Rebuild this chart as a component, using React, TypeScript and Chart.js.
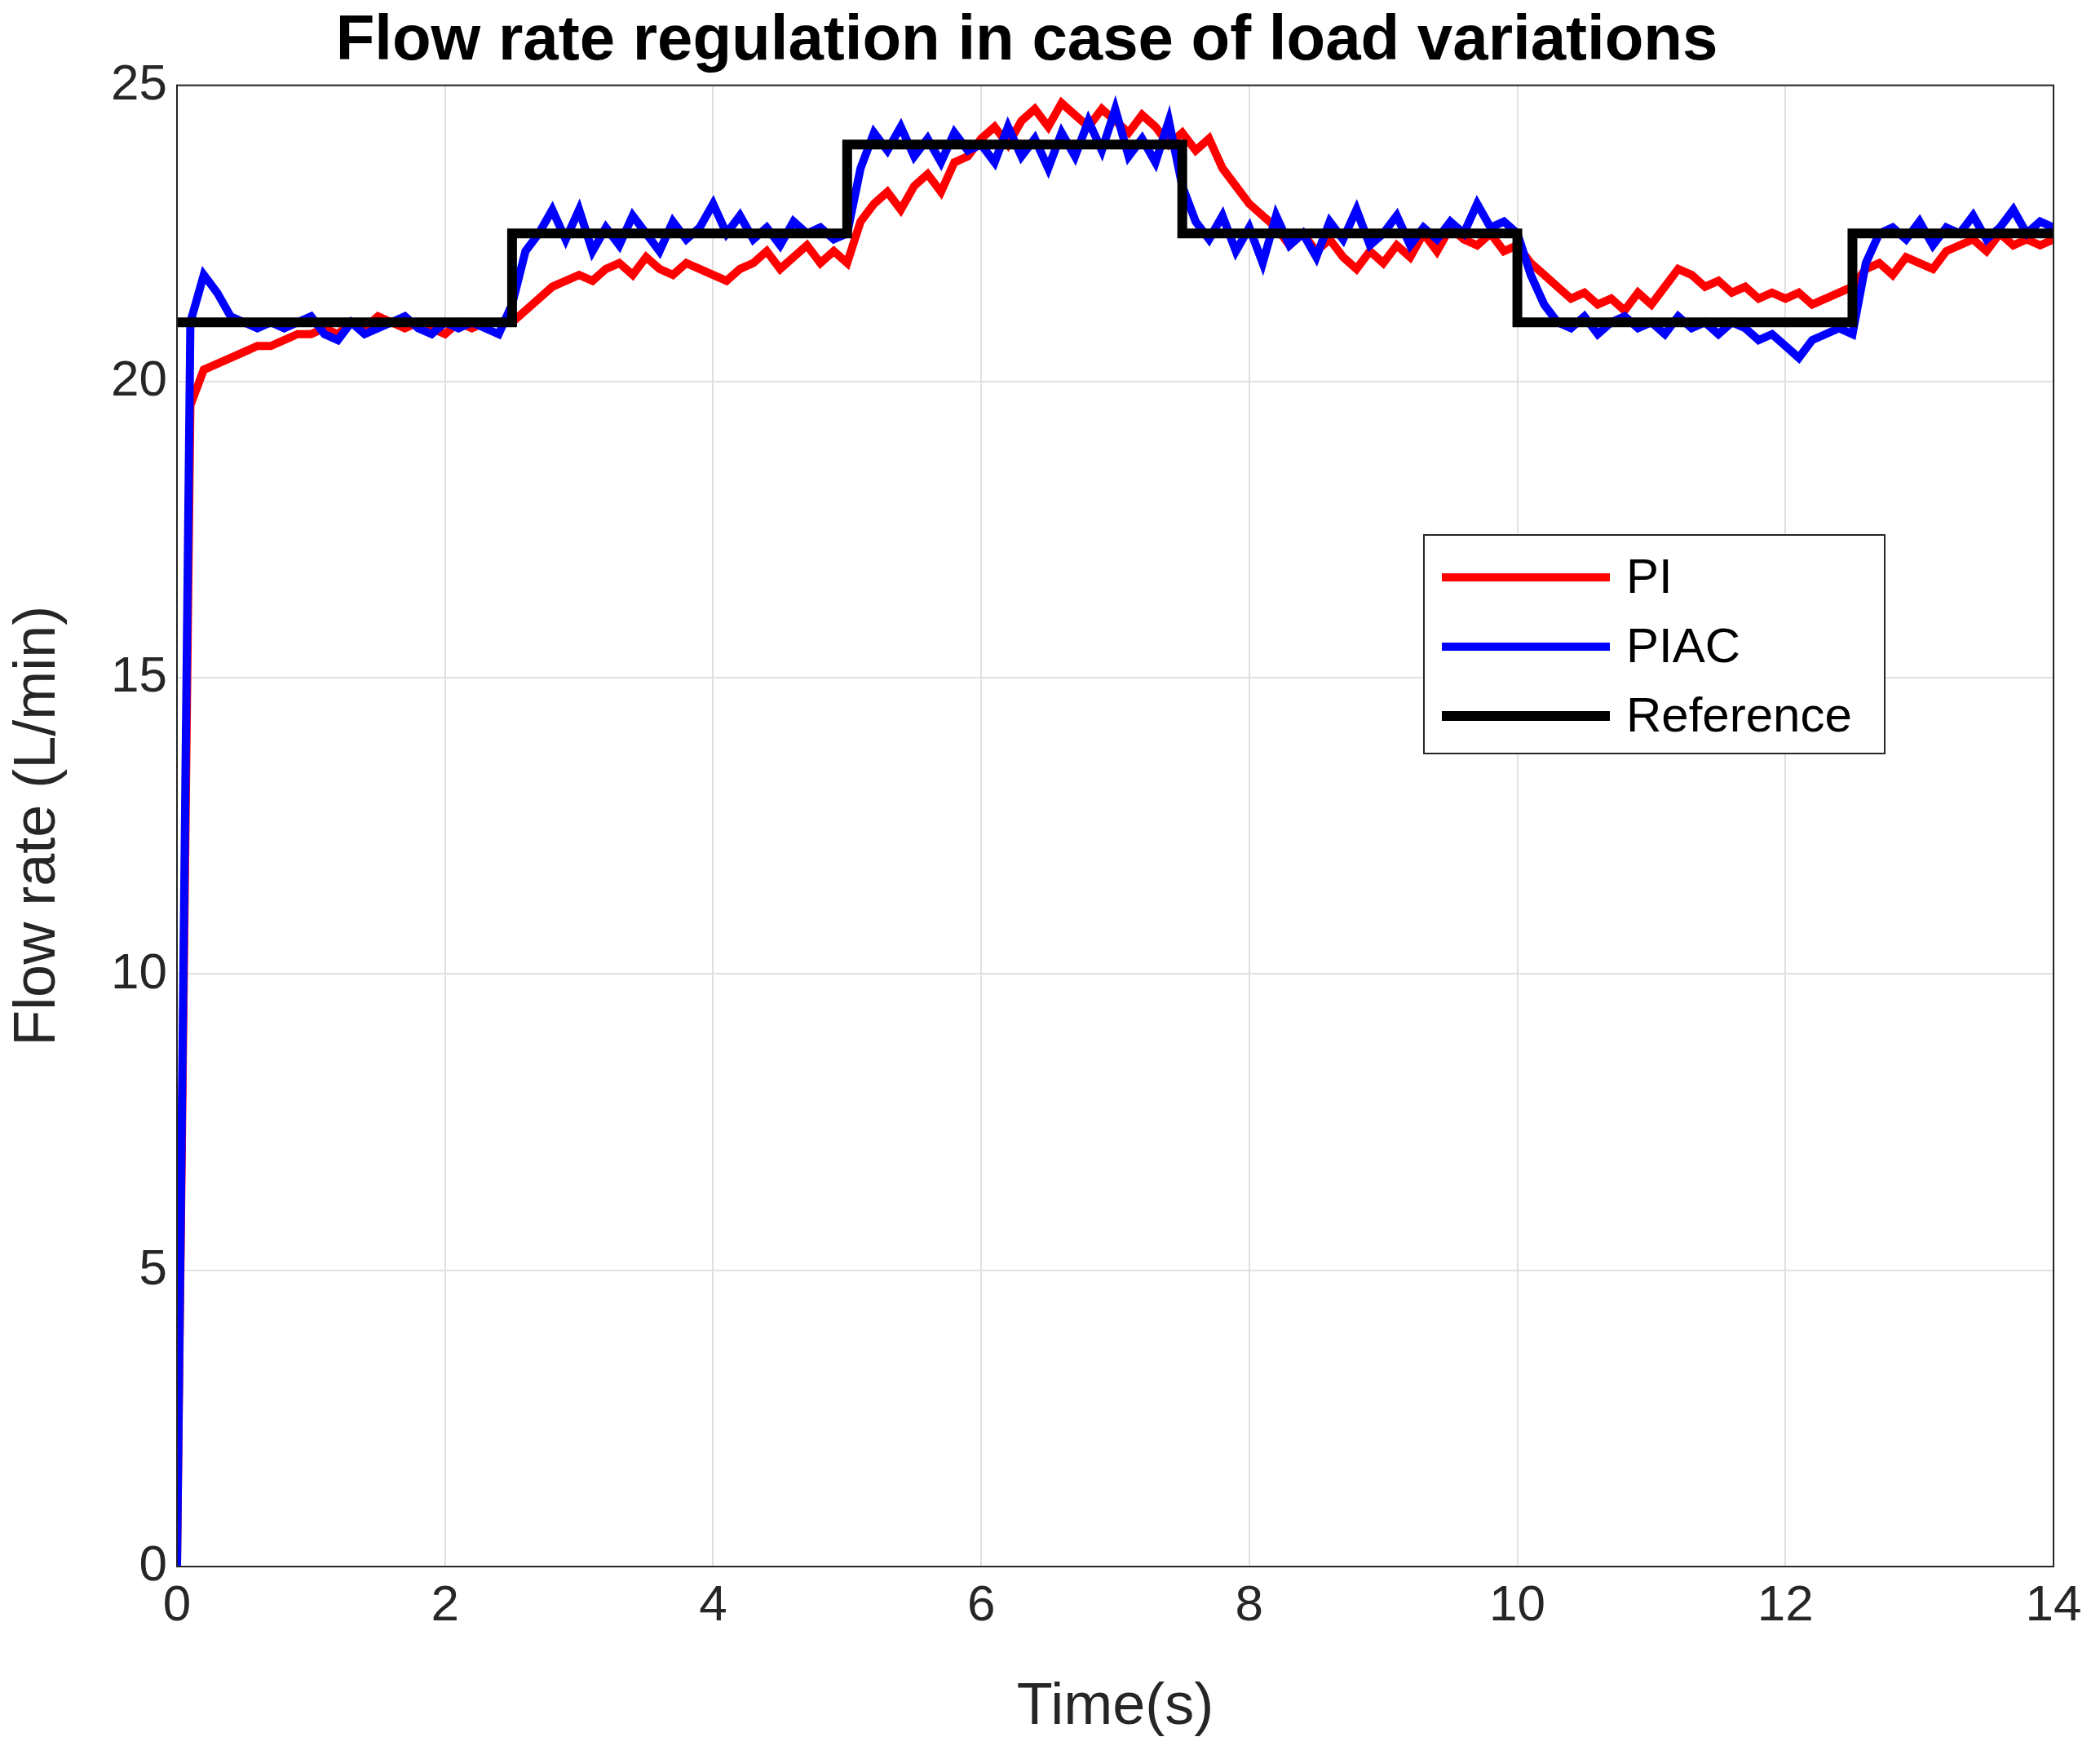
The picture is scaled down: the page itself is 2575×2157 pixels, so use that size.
import React, { useEffect, useRef } from "react";
import { Chart, registerables } from "chart.js";
Chart.register(...registerables);

const timeStep = 0.1;
const piValues = [
  0, 19.6, 20.2, 20.3, 20.4, 20.5, 20.6, 20.6, 20.7, 20.8,
  20.8, 20.9, 20.8, 21.0, 20.9, 21.1, 21.0, 20.9, 21.0, 20.9,
  20.8, 21.0, 20.9, 21.0, 21.0, 21.0, 21.2, 21.4, 21.6, 21.7,
  21.8, 21.7, 21.9, 22.0, 21.8, 22.1, 21.9, 21.8, 22.0, 21.9,
  21.8, 21.7, 21.9, 22.0, 22.2, 21.9, 22.1, 22.3, 22.0, 22.2,
  22.0, 22.7, 23.0, 23.2, 22.9, 23.3, 23.5, 23.2, 23.7, 23.8,
  24.1, 24.3, 24.0, 24.4, 24.6, 24.3, 24.7, 24.5, 24.3, 24.6,
  24.4, 24.2, 24.5, 24.3, 24.0, 24.2, 23.9, 24.1, 23.6, 23.3,
  23.0, 22.8, 22.6, 22.3, 22.5, 22.2, 22.4, 22.1, 21.9, 22.2,
  22.0, 22.3, 22.1, 22.5, 22.2, 22.6, 22.4, 22.3, 22.5, 22.2,
  22.3, 22.0, 21.8, 21.6, 21.4, 21.5, 21.3, 21.4, 21.2, 21.5,
  21.3, 21.6, 21.9, 21.8, 21.6, 21.7, 21.5, 21.6, 21.4, 21.5,
  21.4, 21.5, 21.3, 21.4, 21.5, 21.6, 21.9, 22.0, 21.8, 22.1,
  22.0, 21.9, 22.2, 22.3, 22.4, 22.2, 22.5, 22.3, 22.4, 22.3,
  22.4,
];
const piacValues = [
  0, 21.0, 21.8, 21.5, 21.1, 21.0, 20.9, 21.0, 20.9, 21.0,
  21.1, 20.8, 20.7, 21.0, 20.8, 20.9, 21.0, 21.1, 20.9, 20.8,
  21.0, 20.9, 21.0, 20.9, 20.8, 21.3, 22.2, 22.5, 22.9, 22.4,
  22.9, 22.2, 22.6, 22.3, 22.8, 22.5, 22.2, 22.7, 22.4, 22.6,
  23.0, 22.5, 22.8, 22.4, 22.6, 22.3, 22.7, 22.5, 22.6, 22.4,
  22.5, 23.6, 24.2, 23.9, 24.3, 23.8, 24.1, 23.7, 24.2, 23.9,
  24.0, 23.7, 24.3, 23.8, 24.1, 23.6, 24.2, 23.8, 24.4, 23.9,
  24.6, 23.8, 24.1, 23.7, 24.4, 23.3, 22.7, 22.4, 22.8, 22.2,
  22.6, 22.0, 22.8, 22.3, 22.5, 22.1, 22.7, 22.4, 22.9, 22.3,
  22.5, 22.8, 22.3, 22.6, 22.4, 22.7, 22.5, 23.0, 22.6, 22.7,
  22.5, 21.8, 21.3, 21.0, 20.9, 21.1, 20.8, 21.0, 21.1, 20.9,
  21.0, 20.8, 21.1, 20.9, 21.0, 20.8, 21.0, 20.9, 20.7, 20.8,
  20.6, 20.4, 20.7, 20.8, 20.9, 20.8, 22.0, 22.5, 22.6, 22.4,
  22.7, 22.3, 22.6, 22.5, 22.8, 22.4, 22.6, 22.9, 22.5, 22.7,
  22.6,
];
const refTimes = [0, 2.5, 2.5, 5, 5, 7.5, 7.5, 10, 10, 12.5, 12.5, 14];
const refValues = [21, 21, 22.5, 22.5, 24, 24, 22.5, 22.5, 21, 21, 22.5, 22.5];
const legendLabels = ["PI", "PIAC", "Reference"];
const legendColors = ["#ff0000", "#0000ff", "#000000"];

const FONT = "'Liberation Sans', Arial, sans-serif";

export default function App() {
  const ref = useRef<HTMLCanvasElement>(null);
  useEffect(() => {
    const toPts = (v: number[]) => v.map((y, i) => ({ x: +(i * timeStep).toFixed(2), y }));
    const boxPlugin = {
      id: "box",
      afterDraw(c: any) {
        const { ctx, chartArea: a } = c;
        ctx.save();
        ctx.strokeStyle = "#262626";
        ctx.lineWidth = 2;
        ctx.strokeRect(a.left, a.top, a.right - a.left, a.bottom - a.top);
        const x0 = 1746, y0 = 656, w = 565, h = 268;
        ctx.fillStyle = "#fff";
        ctx.fillRect(x0, y0, w, h);
        ctx.strokeRect(x0, y0, w, h);
        ctx.font = `60px ${FONT}`;
        ctx.textBaseline = "middle";
        legendLabels.forEach((l, i) => {
          const y = y0 + 52 + i * 85;
          ctx.strokeStyle = legendColors[i];
          ctx.lineWidth = i === 2 ? 12 : 10;
          ctx.beginPath();
          ctx.moveTo(x0 + 22, y);
          ctx.lineTo(x0 + 228, y);
          ctx.stroke();
          ctx.fillStyle = "#000";
          ctx.fillText(l, x0 + 248, y + 2);
        });
        ctx.restore();
      },
    };
    const chart = new Chart(ref.current!, {
      type: "line",
      data: {
        datasets: [
          { label: "Reference", data: refTimes.map((x, i) => ({ x, y: refValues[i] })), borderColor: "#000", borderWidth: 12, pointRadius: 0, order: 0 },
          { label: "PIAC", data: toPts(piacValues), borderColor: "#0000ff", borderWidth: 10, pointRadius: 0, order: 1 },
          { label: "PI", data: toPts(piValues), borderColor: "#ff0000", borderWidth: 10, pointRadius: 0, order: 2 },
        ],
      },
      options: {
        animation: false,
        responsive: false,
        layout: { padding: { right: 57, left: 0 } },
        plugins: {
          legend: { display: false },
          tooltip: { enabled: false },
          title: {
            display: true,
            text: "Flow rate regulation in case of load variations",
            color: "#000",
            font: { family: FONT, size: 78, weight: "bold", lineHeight: 1.2 },
            padding: { top: 5, bottom: 6 },
          },
        },
        scales: {
          x: {
            type: "linear", min: 0, max: 14,
            ticks: { stepSize: 2, color: "#262626", font: { family: FONT, size: 62 }, padding: 12 },
            grid: { color: "#e0e0e0", lineWidth: 2, tickLength: 0 },
            border: { display: false },
            title: { display: true, text: "Time(s)", color: "#262626", font: { family: FONT, size: 72 }, padding: { top: 4, bottom: 20 } },
            afterFit: (s: any) => { s.height = 236; },
          },
          y: {
            min: 0, max: 25,
            ticks: { stepSize: 5, color: "#262626", font: { family: FONT, size: 62 }, padding: 12 },
            grid: { color: "#e0e0e0", lineWidth: 2, tickLength: 0 },
            border: { display: false },
            title: { display: true, text: "Flow rate (L/min)", color: "#262626", font: { family: FONT, size: 72 } },
            afterFit: (s: any) => { s.width = 217; },
          },
        },
      },
      plugins: [boxPlugin],
    } as any);
    return () => chart.destroy();
  }, []);
  return (
    <div style={{ position: "fixed", left: 0, top: 0, width: 2575, height: 2157, background: "#fff" }}>
      <canvas ref={ref} width={2575} height={2157} style={{ width: 2575, height: 2157 }} />
    </div>
  );
}
